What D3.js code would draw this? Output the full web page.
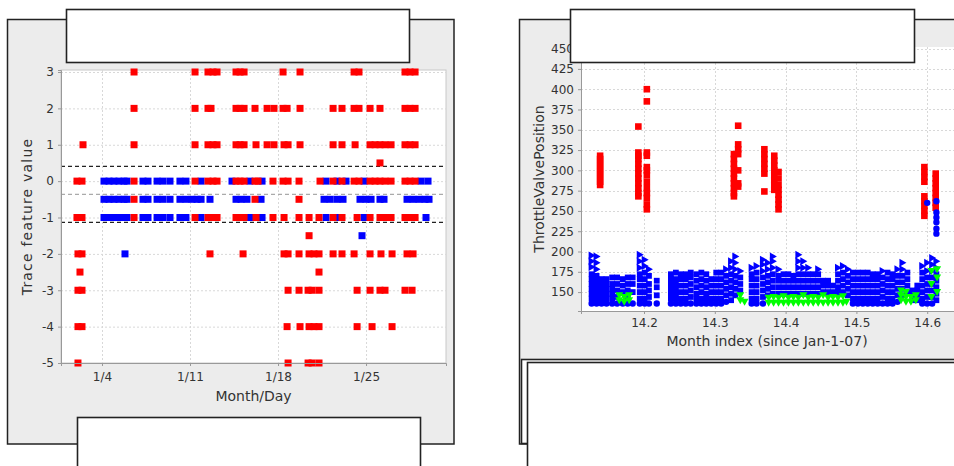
<!DOCTYPE html>
<html>
<head>
<meta charset="utf-8">
<script src="https://cdn.jsdelivr.net/npm/d3@7/dist/d3.min.js"></script>
<style>
  body { margin: 0; background: #fff; }
  svg { display: block; font-family: "DejaVu Sans", sans-serif; }
</style>
</head>
<body>
<div id="chart"></div>
<script>
// ---- left chart data: January day -> trace feature value ----
const leftXTicks = [4, 11, 18, 25];
const leftXLabels = ["1/4", "1/11", "1/18", "1/25"];
const leftYTicks = [3, 2, 1, 0, -1, -2, -3, -4, -5];
const thresholdLines = [0.42, -0.35, -1.12];

const redRows = [
  [3, [6.55, 11.40, 12.43, 12.83, 13.15, 14.66, 14.98, 15.30, 18.40, 19.75, 24.05, 24.44, 28.10, 28.50, 28.90]],
  [2, [6.55, 11.40, 12.43, 12.67, 14.66, 14.98, 15.30, 16.17, 17.13, 17.68, 18.40, 18.72, 19.75, 22.38, 23.09, 24.05, 24.44, 25.32, 26.11, 28.10, 28.50, 28.90]],
  [1, [2.49, 6.55, 11.40, 12.43, 12.83, 13.15, 14.66, 14.98, 15.30, 16.25, 17.13, 17.68, 18.48, 18.80, 19.75, 22.38, 23.09, 24.13, 25.32, 25.72, 26.11, 26.51, 26.99, 28.10, 28.50, 28.90]],
  [0.5, [26.11]],
  [0, [2.01, 2.41, 6.55, 11.40, 12.43, 12.83, 13.15, 14.66, 14.98, 15.30, 16.17, 16.41, 17.60, 18.40, 18.80, 19.67, 21.34, 22.38, 23.09, 24.05, 24.44, 25.32, 25.72, 26.11, 26.51, 26.99, 28.10, 28.50, 28.90]],
  [-0.5, [6.55, 16.17, 19.67]],
  [-1, [2.01, 2.41, 6.55, 11.40, 12.43, 12.83, 13.15, 14.66, 14.98, 15.30, 16.25, 17.60, 18.48, 19.67, 20.47, 21.26, 22.38, 23.09, 24.29, 25.32, 26.11, 26.51, 26.99, 28.10, 28.50, 28.90]],
  [-1.5, [20.47]],
  [-2, [2.09, 2.41, 12.59, 15.22, 18.48, 18.80, 19.67, 20.47, 20.86, 21.26, 22.38, 23.09, 24.05, 25.32, 26.19, 27.07, 28.26, 28.74]],
  [-2.5, [2.25, 21.26]],
  [-3, [2.09, 2.41, 18.80, 19.67, 20.39, 20.71, 21.26, 24.29, 25.32, 26.11, 26.51, 28.10, 28.66]],
  [-4, [2.09, 2.41, 18.72, 19.75, 20.47, 20.86, 21.26, 24.29, 25.48, 27.07]],
  [-5, [2.09, 18.80, 20.39, 20.71, 21.26]]
];

const blueRows = [
  [0, [4.16, 4.56, 4.95, 5.35, 5.75, 5.99, 7.26, 7.66, 8.38, 8.85, 9.41, 10.20, 10.68, 11.88, 14.34, 15.77, 16.73, 21.82, 22.69, 23.41, 24.84, 29.38, 29.93]],
  [-0.5, [4.16, 4.56, 4.95, 5.35, 5.75, 5.99, 7.26, 7.66, 8.38, 8.85, 9.41, 10.20, 10.68, 11.16, 11.56, 11.88, 12.59, 14.66, 15.06, 15.53, 16.65, 21.66, 22.14, 22.69, 23.17, 24.52, 25.00, 25.40, 26.11, 26.43, 28.26, 28.74, 29.22, 29.69, 30.01]],
  [-1, [4.16, 4.56, 4.95, 5.35, 5.75, 5.99, 7.26, 7.66, 8.38, 8.85, 9.41, 10.20, 10.68, 11.88, 15.77, 16.73, 21.82, 22.69, 24.84, 29.77]],
  [-1.5, [24.68]],
  [-2, [5.83]]
];

// ---- right chart data: month index -> throttle valve position ----
const rightXTicks = [14.2, 14.3, 14.4, 14.5, 14.6];
const rightYTicks = [150, 175, 200, 225, 250, 275, 300, 325, 350, 375, 400, 425, 450];

const redColumns = [
  [14.138, [318, 314, 310, 306, 302, 298, 294, 290, 286, 282]],
  [14.192, [354, 322, 318, 314, 308, 302, 296, 290, 284, 278, 272, 268]],
  [14.204, [400, 385, 322, 318, 304, 300, 294, 286, 278, 272, 266, 258, 252]],
  [14.327, [320, 314, 308, 302, 296, 290, 284, 278, 272, 268]],
  [14.333, [355, 332, 326, 320, 300, 284, 280]],
  [14.370, [326, 320, 314, 308, 302, 296, 274]],
  [14.384, [318, 312, 306, 300, 294, 288, 282, 276]],
  [14.390, [298, 290, 282, 276, 270, 264, 258, 252]],
  [14.596, [304, 298, 292, 286, 268, 262, 256, 250, 244]],
  [14.612, [296, 290, 284, 278, 272, 266, 260, 254]]
];

const blueColumns = [
  [14.126, [136, 142, 148, 154, 160, 166, 172, 181, 188, 195]],
  [14.133, [136, 142, 148, 154, 160, 166, 170, 178, 186, 194]],
  [14.140, [136, 142, 148, 154, 160, 166]],
  [14.147, [136, 142, 148, 154, 160, 166]],
  [14.155, [136, 142, 148, 154, 160, 168]],
  [14.162, [136, 144, 152, 160, 168]],
  [14.170, [136, 150, 158, 166]],
  [14.177, [136, 144, 152, 160, 168]],
  [14.184, [136, 150, 160, 168]],
  [14.194, [136, 142, 150, 158, 166, 172, 180, 188, 196]],
  [14.201, [136, 142, 150, 158, 166, 174, 182, 190]],
  [14.207, [136, 144, 152, 160, 170, 178]],
  [14.218, [136, 146, 156, 164]],
  [14.238, [136, 142, 148, 154, 160, 166, 172]],
  [14.245, [136, 142, 148, 154, 160, 166, 174]],
  [14.252, [136, 142, 150, 158, 166, 172]],
  [14.259, [136, 142, 150, 158, 166, 172]],
  [14.266, [136, 144, 152, 160, 168, 174]],
  [14.274, [136, 142, 148, 156, 164, 172]],
  [14.281, [136, 142, 150, 158, 166, 174]],
  [14.288, [136, 142, 148, 156, 164, 172]],
  [14.295, [136, 142, 150, 158, 166]],
  [14.302, [136, 142, 150, 158, 166, 174]],
  [14.309, [136, 142, 150, 158, 166, 174]],
  [14.316, [138, 146, 154, 162, 170, 178]],
  [14.323, [140, 148, 156, 164, 172, 180, 188]],
  [14.329, [146, 154, 162, 170, 178, 186, 194]],
  [14.336, [152, 160, 168, 176]],
  [14.352, [136, 142, 150, 158, 166, 172, 180]],
  [14.359, [136, 142, 150, 158, 166, 174, 182]],
  [14.368, [136, 144, 152, 160, 168, 176, 184, 190]],
  [14.375, [146, 154, 162, 170, 178, 186]],
  [14.382, [148, 156, 164, 172, 180, 188, 194]],
  [14.390, [148, 156, 164, 170, 178]],
  [14.397, [148, 156, 164, 172]],
  [14.404, [148, 156, 164, 172]],
  [14.411, [148, 156, 164, 170]],
  [14.418, [148, 156, 164, 172, 180, 188, 196]],
  [14.425, [148, 156, 164, 172, 180, 188]],
  [14.432, [148, 156, 164, 172, 180]],
  [14.439, [148, 156, 164, 172]],
  [14.446, [148, 156, 164, 172, 178]],
  [14.453, [150, 158, 164]],
  [14.460, [150, 158, 164]],
  [14.467, [150, 158]],
  [14.474, [150, 156, 164, 172, 180]],
  [14.481, [150, 158, 166, 174, 182]],
  [14.488, [146, 154, 162, 170, 178]],
  [14.495, [136, 142, 150, 158, 166, 174]],
  [14.502, [136, 142, 150, 158, 166, 174]],
  [14.509, [136, 142, 150, 158, 166, 174]],
  [14.516, [136, 142, 150, 158, 166, 174]],
  [14.523, [136, 142, 150, 158, 166, 172]],
  [14.530, [136, 142, 150, 158, 166, 172]],
  [14.537, [136, 144, 152, 160, 168, 176]],
  [14.544, [136, 142, 150, 158, 166, 174]],
  [14.551, [136, 142, 150, 158, 166, 172]],
  [14.558, [138, 146, 154, 162, 170, 178]],
  [14.565, [146, 154, 162, 170, 178, 186]],
  [14.572, [150, 158, 166, 174]],
  [14.579, [140, 146, 152]],
  [14.586, [140, 146, 152, 158]],
  [14.593, [136, 142, 150, 158, 166, 174, 182]],
  [14.600, [136, 144, 152, 160, 168, 176, 186, 260]],
  [14.607, [136, 144, 152, 160, 168, 176, 184, 192]],
  [14.613, [140, 148, 156, 164, 172, 180, 188, 222, 228, 236, 242, 248, 262]]
];

const greenColumns = [
  [14.165, [140, 146]], [14.172, [138, 144]], [14.179, [140, 146]],
  [14.336, [140, 146]], [14.342, [138]],
  [14.376, [137, 143]], [14.383, [137, 144]], [14.390, [137, 143]], [14.397, [137, 145]],
  [14.404, [137, 143]], [14.411, [137, 144]], [14.418, [137, 143]], [14.425, [137, 146]],
  [14.432, [137, 143]], [14.439, [137, 144]], [14.446, [137, 143]], [14.453, [137, 146]],
  [14.460, [137, 143]], [14.467, [137, 144]], [14.474, [137, 143]], [14.481, [137, 145]],
  [14.486, [138]],
  [14.563, [140, 146, 152]], [14.570, [138, 144, 150]], [14.577, [138, 144]], [14.584, [140, 146]],
  [14.606, [144, 160, 176]], [14.614, [150, 168, 178]]
];

const flatten = rows => rows.flatMap(([k, list]) => list.map(v => ({ k, v })));

const svg = d3.select("#chart").append("svg")
  .attr("width", 954)
  .attr("height", 466);

const panelBg = "#ececec";

// ---------- panels ----------
svg.append("rect").attr("x", 7.5).attr("y", 19.5).attr("width", 446.5).attr("height", 424.5)
  .attr("fill", panelBg).attr("stroke", "#222").attr("stroke-width", 1.5);
svg.append("rect").attr("x", 519.5).attr("y", 19.5).attr("width", 450).attr("height", 424.5)
  .attr("fill", panelBg).attr("stroke", "#222").attr("stroke-width", 1.5);

// ---------- left chart ----------
const L = { left: 61, right: 446, top: 70, bottom: 363 };
const xL = d3.scaleLinear().domain([0.74, 31.36]).range([L.left, L.right]);
const yL = d3.scaleLinear().domain([-5, 3.055]).range([L.bottom, L.top]);

const gL = svg.append("g");
gL.append("rect").attr("x", L.left).attr("y", L.top)
  .attr("width", L.right - L.left).attr("height", L.bottom - L.top)
  .attr("fill", "#fff").attr("stroke", "#c8c8c8");

// grid
gL.append("g").selectAll("line").data(leftYTicks).join("line")
  .attr("x1", L.left).attr("x2", L.right)
  .attr("y1", d => yL(d) + 0.5).attr("y2", d => yL(d) + 0.5)
  .attr("stroke", "#d8d8d8").attr("stroke-dasharray", "2,2");
gL.append("g").selectAll("line").data(leftXTicks).join("line")
  .attr("x1", d => xL(d) + 0.5).attr("x2", d => xL(d) + 0.5)
  .attr("y1", L.top).attr("y2", L.bottom)
  .attr("stroke", "#d8d8d8").attr("stroke-dasharray", "2,2");

// threshold lines
gL.append("g").selectAll("line").data(thresholdLines).join("line")
  .attr("x1", L.left).attr("x2", L.right)
  .attr("y1", d => yL(d) + 0.5).attr("y2", d => yL(d) + 0.5)
  .attr("stroke", (d, i) => i === 1 ? "#aaa" : "#222")
  .attr("stroke-width", 1.2)
  .attr("stroke-dasharray", "4,3");

// markers: blue first, red on top
const sq = 7;
gL.append("g").selectAll("rect").data(flatten(blueRows)).join("rect")
  .attr("x", d => xL(d.v) - sq / 2).attr("y", d => yL(d.k) - sq / 2)
  .attr("width", sq).attr("height", sq).attr("fill", "#0000ff");
gL.append("g").selectAll("rect").data(flatten(redRows)).join("rect")
  .attr("x", d => xL(d.v) - sq / 2).attr("y", d => yL(d.k) - sq / 2)
  .attr("width", sq).attr("height", sq).attr("fill", "#ff0000");

// axes
const axL = gL.append("g").attr("transform", `translate(${L.left},0)`)
  .call(d3.axisLeft(yL).tickValues(leftYTicks).tickSize(3).tickPadding(4).tickFormat(d3.format("d")));
const axB = gL.append("g").attr("transform", `translate(0,${L.bottom})`)
  .call(d3.axisBottom(xL).tickValues(leftXTicks).tickSize(3).tickPadding(6)
    .tickFormat((d, i) => leftXLabels[i]));
[axL, axB].forEach(ax => {
  ax.select(".domain").attr("stroke", "#999");
  ax.selectAll(".tick line").attr("stroke", "#999");
  ax.selectAll(".tick text").attr("fill", "#333").style("font-size", "12px").style("font-family", "DejaVu Sans");
});
axL.selectAll(".tick text").text(d => String(d).replace("\u2212", "-"));

gL.append("text")
  .attr("x", (L.left + L.right) / 2 + 0).attr("y", 401)
  .attr("text-anchor", "middle").attr("fill", "#333").style("font-size", "14px")
  .text("Month/Day");
gL.append("text")
  .attr("transform", `translate(32,${(L.top + L.bottom) / 2}) rotate(-90)`)
  .attr("text-anchor", "middle").attr("fill", "#333").style("font-size", "14px")
  .style("letter-spacing", "1.2px")
  .text("Trace feature value");

// ---------- right chart ----------
const R = { left: 581, right: 962.6, top: 47, bottom: 311 };
const xR = d3.scaleLinear().domain([14.111, 14.65]).range([R.left, R.right]);
const yR = d3.scaleLinear().domain([126.7, 452]).range([R.bottom, R.top]);

const gR = svg.append("g");
gR.append("rect").attr("x", R.left).attr("y", R.top)
  .attr("width", R.right - R.left).attr("height", R.bottom - R.top)
  .attr("fill", "#fff");

gR.append("g").selectAll("line").data(rightYTicks).join("line")
  .attr("x1", R.left).attr("x2", R.right)
  .attr("y1", d => Math.round(yR(d)) + 0.5).attr("y2", d => Math.round(yR(d)) + 0.5)
  .attr("stroke", "#d8d8d8").attr("stroke-dasharray", "2,2");
gR.append("g").selectAll("line").data(rightXTicks).join("line")
  .attr("x1", d => Math.round(xR(d)) + 0.5).attr("x2", d => Math.round(xR(d)) + 0.5)
  .attr("y1", R.top).attr("y2", R.bottom)
  .attr("stroke", "#d8d8d8").attr("stroke-dasharray", "2,2");

// red squares
gR.append("g").selectAll("rect").data(flatten(redColumns)).join("rect")
  .attr("x", d => xR(d.k) - 3.3).attr("y", d => yR(d.v) - 3.3)
  .attr("width", 6.6).attr("height", 6.6).attr("fill", "#ff0000");

// blue mixed shapes
const rightTri = "M-3,-4L4,0L-3,4Z";
const circle = d3.symbol(d3.symbolCircle, 32)();
const square = "M-2.9,-2.9h5.8v5.8h-5.8Z";
gR.append("g").selectAll("path").data(flatten(blueColumns)).join("path")
  .attr("transform", d => `translate(${xR(d.k)},${yR(d.v)})`)
  .attr("d", d => d.v >= 176 && d.v < 210 ? rightTri : (d.v <= 138 || d.v >= 210 ? circle : square))
  .attr("fill", "#0000ff");

// green down triangles
const downTri = "M-4,-3L4,-3L0,4Z";
gR.append("g").selectAll("path").data(flatten(greenColumns)).join("path")
  .attr("transform", d => `translate(${xR(d.k)},${yR(d.v)})`)
  .attr("d", downTri).attr("fill", "#00ff00");

const axRL = gR.append("g").attr("transform", `translate(${R.left},0)`)
  .call(d3.axisLeft(yR).tickValues(rightYTicks).tickSize(3).tickPadding(4));
const axRB = gR.append("g").attr("transform", `translate(0,${R.bottom})`)
  .call(d3.axisBottom(xR).tickValues(rightXTicks).tickSize(3).tickPadding(4).tickFormat(d3.format(".1f")));
[axRL, axRB].forEach(ax => {
  ax.select(".domain").attr("stroke", "#999");
  ax.selectAll(".tick line").attr("stroke", "#999");
  ax.selectAll(".tick text").attr("fill", "#333").style("font-size", "12px").style("font-family", "DejaVu Sans");
});

gR.append("text")
  .attr("x", 767).attr("y", 346)
  .attr("text-anchor", "middle").attr("fill", "#333").style("font-size", "14px")
  .text("Month index (since Jan-1-07)");
gR.append("text")
  .attr("transform", "translate(544,179) rotate(-90)")
  .attr("text-anchor", "middle").attr("fill", "#333").style("font-size", "14px")
  .text("ThrottleValvePosition");

// ---------- overlay boxes ----------
const boxes = [
  [66.5, 9.5, 343, 53],
  [77.5, 417.5, 343, 60],
  [570.5, 9.5, 344, 53],
  [521.5, 359.5, 450, 84],
  [527.5, 362.5, 450, 120]
];
svg.append("g").selectAll("rect").data(boxes).join("rect")
  .attr("x", d => d[0]).attr("y", d => d[1])
  .attr("width", d => d[2]).attr("height", d => d[3])
  .attr("fill", "#fff").attr("stroke", "#222").attr("stroke-width", 1.6);
</script>
</body>
</html>
